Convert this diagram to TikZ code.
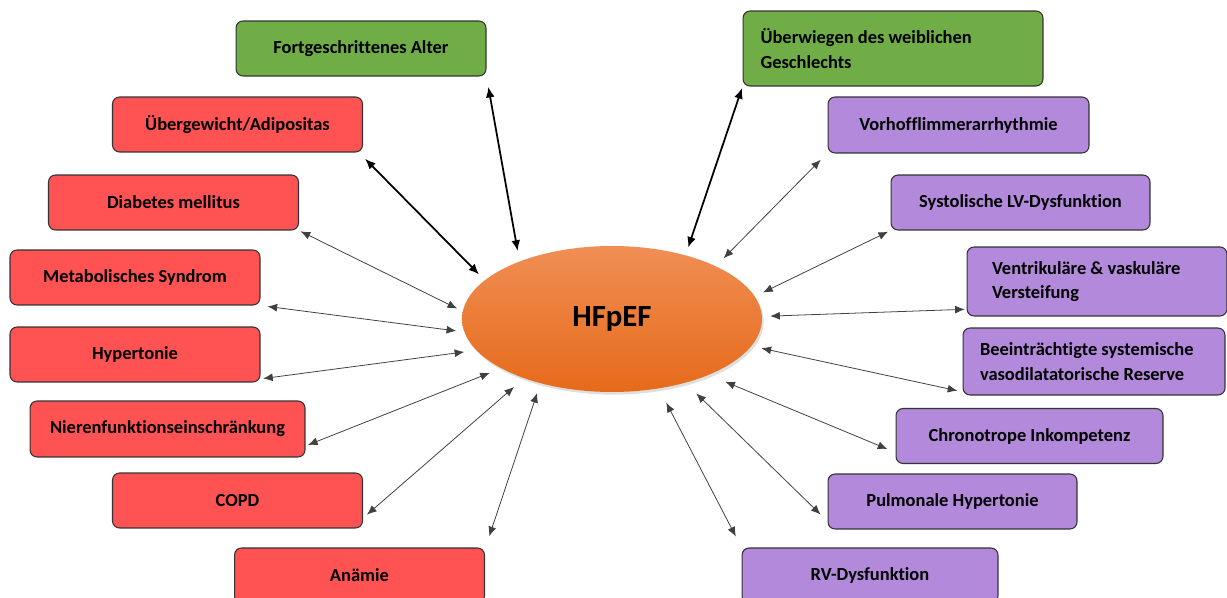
\documentclass[tikz,border=0pt]{standalone}
\usepackage{fontspec}
\setmainfont{Carlito}[Ligatures=NoCommon]
\usetikzlibrary{arrows.meta,shapes.geometric,shadows}

\definecolor{redfac}{RGB}{255,82,82}
\definecolor{greenfac}{RGB}{112,173,71}
\definecolor{purplefac}{RGB}{179,137,219}
\definecolor{hftop}{RGB}{240,142,84}
\definecolor{hfmid}{RGB}{245,126,40}
\definecolor{hfbot}{RGB}{230,106,26}

\tikzset{
  factor/.style={draw=black!80, line width=0.6pt, rounded corners=4pt, minimum height=1.1cm,
    inner sep=0pt, align=center, font=\bfseries\fontsize{10.5}{14}\selectfont},
  riskfac/.style={factor, fill=redfac},
  demofac/.style={factor, fill=greenfac},
  cardfac/.style={factor, fill=purplefac},
  link/.style={{Latex[length=5.5pt,width=4.5pt]}-{Latex[length=5.5pt,width=4.5pt]}, draw=black!75, line width=0.45pt},
  boldlink/.style={{Latex[length=6pt,width=5pt]}-{Latex[length=6pt,width=5pt]}, draw=black, line width=1pt},
}

\begin{document}
\begin{tikzpicture}[x=0.02cm, y=-0.02cm]
  \useasboundingbox (0,0) rectangle (1227,598);

  % centre
  \node[ellipse, minimum width=6cm, minimum height=2.92cm, inner sep=0pt,
    top color=hftop, middle color=hfmid, bottom color=hfbot,
    drop shadow={opacity=0.25, shadow xshift=1pt, shadow yshift=-1.5pt},
    font=\bfseries\fontsize{17.5}{20}\selectfont] (hf) at (612,319) {HFpEF};

  % left side
  \node[demofac, minimum width=5cm] (alter) at (361,48.5) {Fortgeschrittenes Alter};
  \node[riskfac, minimum width=5cm] (adip) at (237.5,124.5) {Übergewicht/Adipositas};
  \node[riskfac, minimum width=5cm] (diab) at (173.5,202.5) {Diabetes mellitus};
  \node[riskfac, minimum width=5cm] (metab) at (135,277.5) {Metabolisches Syndrom};
  \node[riskfac, minimum width=5cm] (hyp) at (135,354.5) {Hypertonie};
  \node[riskfac, minimum width=5.5cm, minimum height=1.12cm] (niere) at (167.5,429) {Nierenfunktionseinschränkung};
  \node[riskfac, minimum width=5cm] (copd) at (237.5,500.5) {COPD};
  \node[riskfac, minimum width=5cm] (anaem) at (359.5,575.5) {Anämie};

  % right side
  \node[demofac, minimum width=6cm, minimum height=1.5cm, text width=5.3cm, align=flush left] (weibl) at (893,48.5)
    {Überwiegen des weiblichen\\Geschlechts};
  \node[cardfac, minimum width=5.22cm, minimum height=1.12cm] (vhf) at (958.5,125) {Vorhofflimmerarrhythmie};
  \node[cardfac, minimum width=5.18cm] (lvdys) at (1020.5,202.5) {Systolische LV-Dysfunktion};
  \node[cardfac, minimum width=5.2cm, minimum height=1.38cm, text width=4.2cm, align=flush left] (steif) at (1097,281.5)
    {Ventrikuläre \& vaskuläre\\Versteifung};
  \node[cardfac, minimum width=5.24cm, minimum height=1.34cm, text width=4.56cm, align=flush left] (vaso) at (1094,361.5)
    {Beeinträchtigte systemische\\vasodilatatorische Reserve};
  \node[cardfac, minimum width=5.34cm] (chrono) at (1029.5,436) {Chronotrope Inkompetenz};
  \node[cardfac, minimum width=4.98cm] (pulm) at (952.5,501.5) {Pulmonale Hypertonie};
  \node[cardfac, minimum width=5.12cm] (rvdys) at (870,575.5) {RV-Dysfunktion};

  % connectors
  \draw[boldlink, shorten <=6pt, shorten >=6pt] (alter.south east) -- (hf.148);
  \draw[boldlink, shorten <=5pt, shorten >=4.5pt] (adip.-13.5) -- (hf.163.7);
  \draw[link, shorten <=1pt, shorten >=3.4pt] (diab.south east) -- (hf.177);
  \draw[link, shorten <=4pt, shorten >=4.5pt] (metab.south east) -- (hf.185.4);
  \draw[link, shorten <=1.5pt, shorten >=6.8pt] (hyp.-11) -- (hf.193.5);
  \draw[link, shorten <=1.5pt, shorten >=6.8pt] (niere.-7.3) -- (hf.204.9);
  \draw[link, shorten <=3pt, shorten >=7.4pt] (copd.-8.5) -- (hf.214.2);
  \draw[link, shorten <=7.5pt, shorten >=5.7pt] (anaem.12.6) -- (hf.222.4);
  \draw[boldlink, shorten <=1pt, shorten >=4.5pt] (weibl.south west) -- (hf.41.8);
  \draw[link, shorten <=5.5pt, shorten >=6.2pt] (vhf.192.5) -- (hf.27.2);
  \draw[link, shorten <=1.5pt, shorten >=5.1pt] (lvdys.south west) -- (hf.9.4);
  \draw[link, shorten <=1pt, shorten >=4.5pt] (steif.192.2) -- (hf.1.1);
  \draw[link, shorten <=3pt, shorten >=5.7pt] (vaso.193.5) -- (hf.349.7);
  \draw[link, shorten <=5pt, shorten >=10pt] (chrono.187.6) -- (hf.330.7);
  \draw[link, shorten <=5.5pt, shorten >=8.5pt] (pulm.189) -- (hf.319.9);
  \draw[link, shorten <=7pt, shorten >=9pt] (rvdys.north west) -- (hf.304.4);
\end{tikzpicture}
\end{document}
